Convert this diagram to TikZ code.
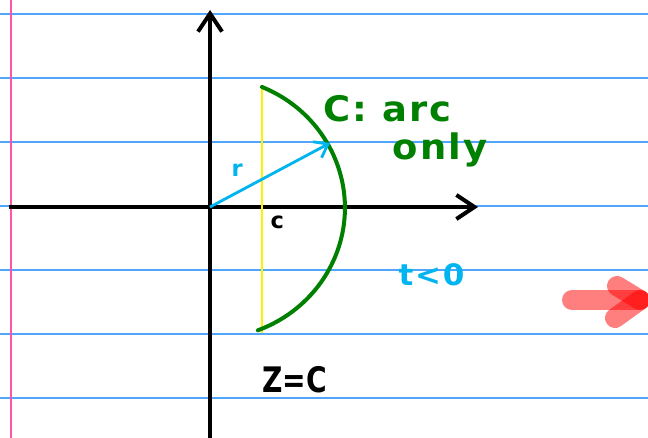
\documentclass[tikz,border=0pt]{standalone}
\usepackage{fontspec}
\usepackage{xcolor}
\usetikzlibrary{positioning, arrows.meta, calc}
\newfontfamily\handfont[FakeStretch=1.05, LetterSpace=6]{DejaVu Sans}
\newfontfamily\handnarrow[FakeStretch=0.8]{DejaVu Sans}
\newfontfamily\handplain{DejaVu Sans}
\definecolor{ruleblue}{RGB}{80,165,255}
\definecolor{marginpink}{RGB}{255,85,165}
\definecolor{penblue}{RGB}{0,180,240}
\definecolor{pengreen}{RGB}{0,128,0}
\tikzset{every picture/.append style={thick}}
\tikzset{
    ruleline/.style={ruleblue, line width=1.1pt},
    axisline/.style={line width=1mm, -{Straight Barb[length=4.5mm, width=6mm]}},
    handtext/.style={font=\handfont\bfseries\fontsize{25}{27}\selectfont, inner sep=0pt},
    smalltext/.style={font=\handplain\bfseries\fontsize{16}{18}\selectfont, inner sep=0pt},
    markstroke/.style={red, opacity=0.5, line width=5mm, line cap=round}
}

\begin{document}
\begin{tikzpicture}[x=0.025cm, y=-0.025cm]
    \useasboundingbox (0,0) rectangle (648,438);
    \fill[white] (0,0) rectangle (648,438);
    
    % Ruled paper
    \foreach \y in {14,78,...,398}
        \draw[ruleline] (0,\y) -- (648,\y);
    \draw[marginpink, line width=1.5pt] (11,0) -- (11,438);
    
    % Axes
    \coordinate (O) at (210,207);
    \coordinate (xstart) at (9,207);
    \coordinate (xend) at (478,207);
    \coordinate (ystart) at (210,440);
    \coordinate (yend) at (210,10);
    \draw[axisline] (xstart) -- (xend);
    \draw[axisline] (ystart) -- (yend);
    
    % Chord at z = c
    \coordinate (ctop) at (262,87);
    \coordinate (cbot) at (262,333);
    \draw[yellow, line width=0.6mm] (ctop) -- (cbot);
    
    % Arc C
    \draw[pengreen, line width=1mm, line cap=round] (ctop)
        arc[x radius=135, y radius=131, start angle=-67.3, end angle=69.2];
    
    % Radius
    \coordinate (rtip) at (330,143);
    \draw[penblue, line width=0.7mm, -{Straight Barb[length=3mm, width=4.5mm]}] (O) -- (rtip);
    
    % Labels
    \node[smalltext, penblue, anchor=base west] (rlabel) at (231,177) {r};
    \node[smalltext, anchor=base west] (clabel) at (270,229) {c};
    \node[handtext, pengreen, anchor=base west] (arclabel) at (323,122) {C: arc};
    \node[handtext, pengreen, anchor=base west] (onlylabel) at (392,160) {only};
    \node[handtext, penblue, font=\handfont\bfseries\fontsize{21}{23}\selectfont, anchor=base west] (tlabel) at (398,285) {t<0};
    \node[font=\handnarrow\bfseries\fontsize{25}{27}\selectfont, inner sep=0pt, anchor=base west] (zlabel) at (262,392) {Z=C};
    
    % Red marker arrow
    \coordinate (mtail) at (572,300);
    \coordinate (mtip) at (640,300);
    \coordinate (mup) at (617,286);
    \coordinate (mdown) at (615,318);
    \draw[markstroke] (mtail) -- (mtip);
    \draw[markstroke] (mup) -- (mtip);
    \draw[markstroke] (mdown) -- (mtip);
\end{tikzpicture}
\end{document}
